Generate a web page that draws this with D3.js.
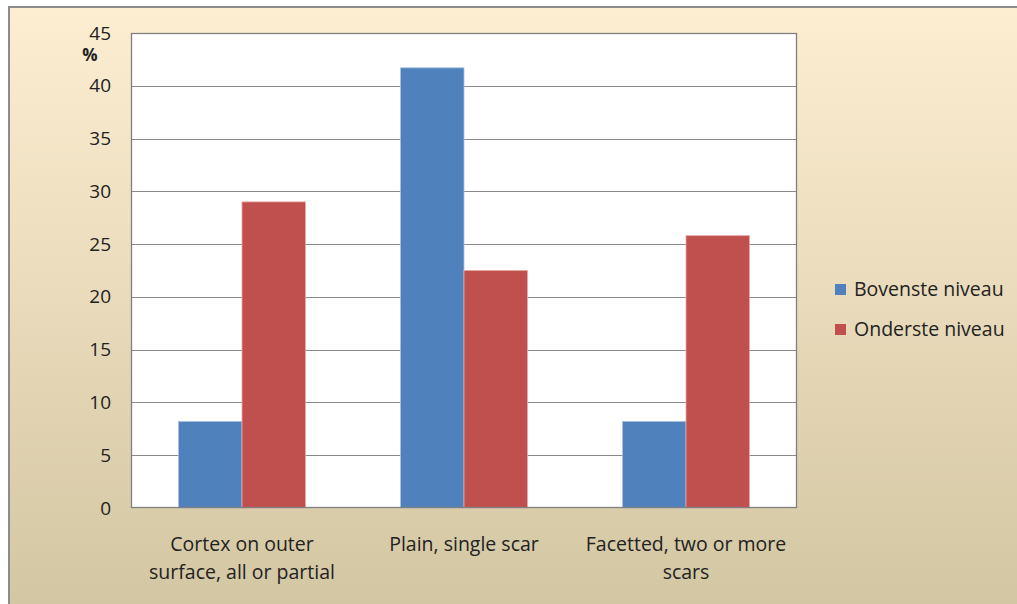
<!DOCTYPE html>
<html>
<head>
<meta charset="utf-8">
<script src="https://cdn.jsdelivr.net/npm/d3@7"></script>
<style>
  html, body { margin: 0; padding: 0; background: #ffffff; }
  svg { display: block; }
  text { font-family: "Open Sans", Lato, sans-serif; fill: #222; }
</style>
</head>
<body>
<svg id="chart" width="1017" height="604"></svg>
<script>
// Flake striking-platform types, share per level (%)
const categories = [
  ["Cortex on outer", "surface, all or partial"],
  ["Plain, single scar"],
  ["Facetted, two or more", "scars"]
];
const seriesNames = ["Bovenste niveau", "Onderste niveau"];
const bovenste = [8.2, 41.7, 8.2];
const onderste = [29.0, 22.5, 25.8];
const yTicks = [0, 5, 10, 15, 20, 25, 30, 35, 40, 45];
const yLabel = "%";

const colors = ["#4f81bd", "#c0504d"];
const edgeColors = ["#a7c0de", "#e6a7a5"];

const svg = d3.select("#chart");
const W = 1017, H = 604;

// Panel background gradient
const defs = svg.append("defs");
const grad = defs.append("linearGradient")
  .attr("id", "bg").attr("x1", 0).attr("y1", 0).attr("x2", 0).attr("y2", 1);
grad.append("stop").attr("offset", "0%").attr("stop-color", "#fdeed2");
grad.append("stop").attr("offset", "100%").attr("stop-color", "#d3c6a2");

svg.append("rect").attr("x", 0).attr("y", 0).attr("width", W).attr("height", H).attr("fill", "#ffffff");
svg.append("rect")
  .attr("x", 9).attr("y", 7).attr("width", W - 9 + 5).attr("height", H - 7 + 5)
  .attr("fill", "url(#bg)")
  .attr("stroke", "#8c8c8c").attr("stroke-width", 2);

const plot = { left: 131, top: 33, right: 797, bottom: 508 };

const x0 = d3.scaleBand()
  .domain(d3.range(categories.length))
  .range([plot.left, plot.right])
  .paddingInner(0).paddingOuter(0);

// gap width 150% of a single bar
const groupFrac = 2 / (2 + 1.5);
const x1 = d3.scaleBand()
  .domain([0, 1])
  .range([0, x0.bandwidth() * groupFrac]);

const y = d3.scaleLinear().domain([0, 45]).range([plot.bottom, plot.top]);

// plot area
svg.append("rect")
  .attr("x", plot.left).attr("y", plot.top)
  .attr("width", plot.right - plot.left).attr("height", plot.bottom - plot.top)
  .attr("fill", "#ffffff");

// gridlines
svg.append("g")
  .selectAll("line")
  .data(yTicks.filter(t => t > 0))
  .join("line")
  .attr("x1", plot.left).attr("x2", plot.right)
  .attr("y1", d => Math.round(y(d)) + 0.5).attr("y2", d => Math.round(y(d)) + 0.5)
  .attr("stroke", "#8a8a8a").attr("stroke-width", 1.2);

// bars
const series = [bovenste, onderste];
const groups = svg.append("g");
categories.forEach((c, i) => {
  const gx = x0(i) + (x0.bandwidth() - x0.bandwidth() * groupFrac) / 2;
  series.forEach((vals, s) => {
    groups.append("rect")
      .attr("x", gx + x1(s))
      .attr("y", y(vals[i]))
      .attr("width", x1.bandwidth())
      .attr("height", y(0) - y(vals[i]))
      .attr("fill", colors[s])
      .attr("stroke", edgeColors[s])
      .attr("stroke-width", 0.8);
  });
});

// plot frame
svg.append("rect")
  .attr("x", plot.left + 0.5).attr("y", plot.top + 0.5)
  .attr("width", plot.right - plot.left - 1).attr("height", plot.bottom - plot.top - 1)
  .attr("fill", "none").attr("stroke", "#808080").attr("stroke-width", 1.3);

// y axis
const yAxis = d3.axisLeft(y).tickValues(yTicks).tickSize(0).tickPadding(20).tickFormat(d3.format("d"));
const gy = svg.append("g").attr("transform", `translate(${plot.left},0)`).call(yAxis);
gy.select(".domain").remove();
gy.selectAll("text").style("font-family", "'Open Sans', sans-serif").style("font-size", "19px").attr("fill", "#222");

// unit label just under the top tick
svg.append("text")
  .attr("x", 90).attr("y", 61)
  .attr("text-anchor", "middle")
  .style("font-size", "17px").style("font-weight", "bold")
  .text(yLabel);

// category labels
const xAxis = d3.axisBottom(x0).tickSize(0).tickFormat(() => "");
const gx = svg.append("g").attr("transform", `translate(0,${plot.bottom})`).call(xAxis);
gx.select(".domain").remove();
gx.selectAll(".tick").each(function(d) {
  const t = d3.select(this).append("text")
    .attr("text-anchor", "middle")
    .style("font-family", "'Open Sans', sans-serif")
    .style("font-size", "19.5px")
    .attr("fill", "#222");
  categories[d].forEach((line, k) => {
    t.append("tspan").attr("x", 0).attr("y", 43 + k * 28).text(line);
  });
});

// legend
const legend = svg.append("g").attr("transform", "translate(835,289)");
seriesNames.forEach((name, i) => {
  const g = legend.append("g").attr("transform", `translate(0,${i * 40})`);
  g.append("rect").attr("x", 0).attr("y", -5).attr("width", 11).attr("height", 11).attr("fill", colors[i]);
  g.append("text").attr("x", 19).attr("y", 7)
    .style("font-family", "'Open Sans', sans-serif")
    .style("font-size", "19.5px").attr("fill", "#222").text(name);
});
</script>
</body>
</html>
